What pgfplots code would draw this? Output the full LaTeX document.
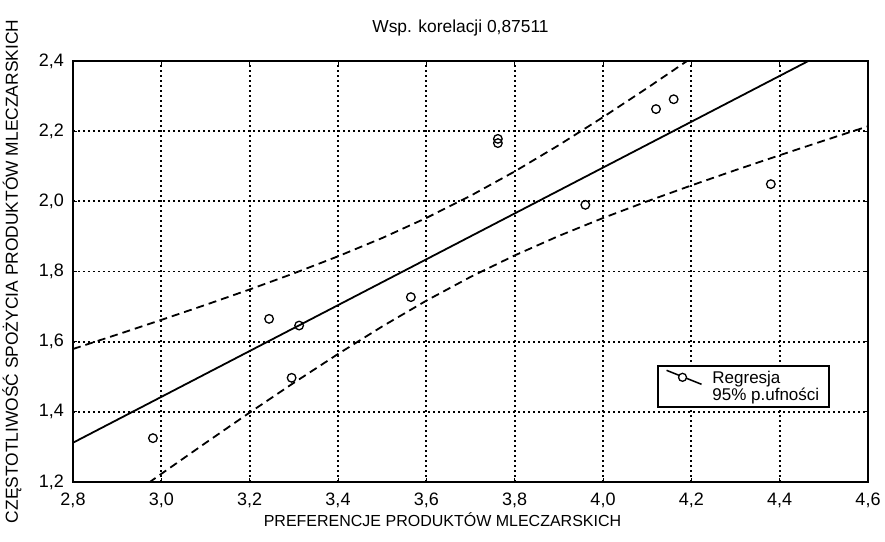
\documentclass[border=0pt]{standalone}
\usepackage{fontspec}
\setmainfont{Liberation Sans}
\usepackage{pgfplots}
\pgfplotsset{compat=1.18}
\begin{document}
\begin{tikzpicture}
\begin{axis}[
  scale only axis, width=795bp, height=421bp,
  xmin=2.8, xmax=4.6, ymin=1.2, ymax=2.4,
  xtick={2.8,3.0,3.2,3.4,3.6,3.8,4.0,4.2,4.4,4.6},
  ytick={1.2,1.4,1.6,1.8,2.0,2.2,2.4},
  /pgf/number format/assume math mode=true,
  /pgf/number format/use comma,
  /pgf/number format/fixed,
  /pgf/number format/fixed zerofill,
  /pgf/number format/precision=1,
  font=\fontsize{16bp}{19bp}\selectfont,
  tick label style={font=\fontsize{18bp}{21bp}\selectfont, inner sep=0pt},
  yticklabel style={anchor=east, xshift=-9bp},
  xticklabel style={anchor=north, yshift=-11bp},
  tick align=inside, major tick length=4bp,
  tick style={black, line width=1bp},
  axis line style={line width=2bp},
  grid=major,
  major grid style={black, line width=1.8bp, dash pattern=on 1.8bp off 3.2bp},
  title={Wsp. korelacji 0,87511},
  title style={at={(axis description cs:0.5,1)}, anchor=center, xshift=-10bp, yshift=27bp, font=\fontsize{17.4bp}{20bp}\selectfont},
  xlabel={PREFERENCJE PRODUKTÓW MLECZARSKICH},
  ylabel={CZĘSTOTLIWOŚĆ SPOŻYCIA PRODUKTÓW MLECZARSKICH},
  xlabel style={at={(axis description cs:0.5,0)}, anchor=center, xshift=-28bp, yshift=-38bp},
  ylabel style={at={(axis description cs:0,0.5)}, anchor=center, yshift=61bp, font=\fontsize{17.4bp}{20bp}\selectfont},
  legend style={at={(axis cs:4.122,1.5335)}, anchor=north west, draw=black, line width=1.8bp,
    inner xsep=8bp, inner ysep=3bp, font=\fontsize{17bp}{16bp}\selectfont, cells={align=left}},
  legend cell align=left,
]
% regression line
\addplot[black, line width=1.8bp,
  legend image code/.code={
    \draw[black, line width=1.5bp] (0bp,16bp) -- (35bp,2bp);
    \draw[black, line width=1.3bp, fill=white] (16bp,9bp) circle (4bp);
    \path (43bp,9bp);
  }] coordinates {(2.8,1.31193) (4.6,2.48823)};
\addlegendentry{Regresja\\95\% p.ufności}
% 95% confidence band
\addplot[black, line width=1.8bp, dash pattern=on 8bp off 5bp, forget plot] coordinates {
(2.8,1.5791) (2.9,1.6202) (3.0,1.6620) (3.1,1.7048) (3.2,1.7488) (3.3,1.7947)
(3.4,1.8432) (3.5,1.8954) (3.6,1.9526) (3.7,2.0157) (3.8,2.0851) (3.9,2.1602)
(4.0,2.2399) (4.1,2.3229) (4.2,2.4083) (4.3,2.4954)};
\addplot[black, line width=1.8bp, dash pattern=on 8bp off 5bp, forget plot] coordinates {
(2.9,1.1343) (3.0,1.2232) (3.1,1.3112) (3.2,1.3979) (3.3,1.4827) (3.4,1.5648)
(3.5,1.6433) (3.6,1.7169) (3.7,1.7845) (3.8,1.8458) (3.9,1.9014) (4.0,1.9524)
(4.1,2.0000) (4.2,2.0453) (4.3,2.0890) (4.4,2.1314) (4.5,2.1730) (4.6,2.2139)};
% data points
\addplot[only marks, mark=o, mark size=4.3bp, mark options={line width=1.3bp, black}, forget plot] coordinates {
(2.981,1.325) (3.244,1.665) (3.312,1.646) (3.295,1.497) (3.565,1.727)
(3.762,2.178) (3.762,2.166) (3.960,1.990) (4.120,2.263) (4.160,2.291) (4.380,2.049)};
\end{axis}
\path (current axis.south west) ++(-73bp,-60bp) coordinate (bl);
\path (current axis.north east) ++(17bp,61bp) coordinate (tr);
\pgfresetboundingbox
\path (bl) rectangle (tr);
\end{tikzpicture}
\end{document}
